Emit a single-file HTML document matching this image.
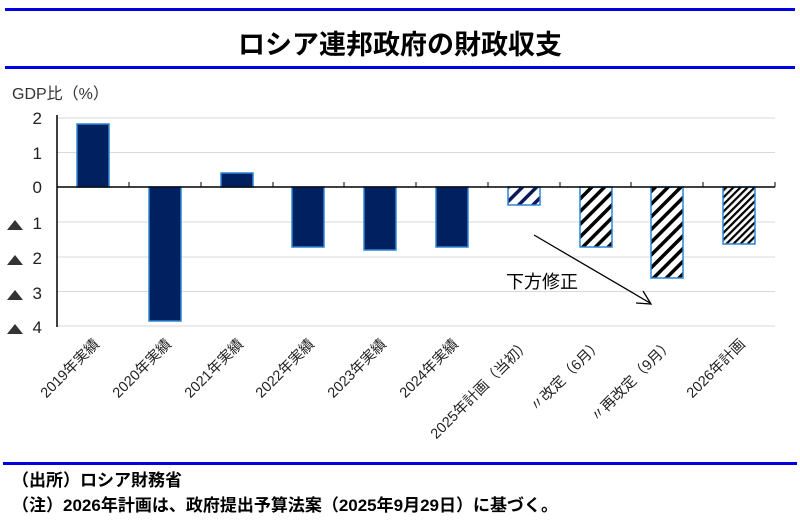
<!DOCTYPE html>
<html><head><meta charset="utf-8"><style>
body{margin:0;background:#fff;}
svg{display:block;font-family:"Liberation Sans","Noto Sans CJK JP",sans-serif;}
</style></head><body>
<svg width="800" height="526" viewBox="0 0 800 526" xmlns="http://www.w3.org/2000/svg">
<defs>
<pattern id="h1" width="10" height="10" patternUnits="userSpaceOnUse" patternTransform="rotate(45)">
<rect width="10" height="10" fill="#fff"/><rect x="0" y="0" width="3.5" height="10" fill="#0a1a5a"/></pattern>
<pattern id="h2" width="9" height="9" patternUnits="userSpaceOnUse" patternTransform="rotate(45)">
<rect width="9" height="9" fill="#fff"/><rect x="0" y="0" width="3.5" height="9" fill="#000"/></pattern>
<pattern id="h3" width="5" height="5" patternUnits="userSpaceOnUse" patternTransform="rotate(45)">
<rect width="5" height="5" fill="#fff"/><rect x="0" y="0" width="2.2" height="5" fill="#000"/></pattern>
</defs>
<rect x="5" y="8" width="790" height="3" fill="#0000e0"/>
<rect x="5" y="66" width="790" height="3" fill="#0000e0"/>
<rect x="3" y="462" width="794" height="3" fill="#0000e0"/>
<text x="400" y="54" font-size="27" font-weight="bold" text-anchor="middle">ロシア連邦政府の財政収支</text>
<text x="12" y="99" font-size="16" fill="#333">GDP比（%）</text>
<g stroke="#d9d9d9" stroke-width="1">
<line x1="57" y1="118" x2="775" y2="118"/><line x1="57" y1="152.5" x2="775" y2="152.5"/>
<line x1="57" y1="222" x2="775" y2="222"/><line x1="57" y1="257" x2="775" y2="257"/>
<line x1="57" y1="291.5" x2="775" y2="291.5"/><line x1="57" y1="326" x2="775" y2="326"/>
</g>
<g font-size="17" fill="#222" text-anchor="end">
<text x="42" y="124">2</text><text x="42" y="159">1</text><text x="42" y="193">0</text>
<text x="42" y="229">1</text><text x="42" y="264">2</text><text x="42" y="299">3</text><text x="42" y="333">4</text>
</g>
<g fill="#333">
<polygon points="7,230 23,230 15,220"/><polygon points="7,265 23,265 15,255"/>
<polygon points="7,300 23,300 15,290"/><polygon points="7,334 23,334 15,324"/>
</g>
<g stroke="#2e86d4" stroke-width="1.5" fill="#002060">
<rect x="77" y="124" width="32" height="63"/>
<rect x="149" y="187" width="32" height="134"/>
<rect x="221" y="173" width="32" height="14"/>
<rect x="292" y="187" width="32" height="60"/>
<rect x="364" y="187" width="32" height="63"/>
<rect x="436" y="187" width="32" height="60"/>
<rect x="508" y="187" width="32" height="18" fill="url(#h1)"/>
<rect x="580" y="187" width="32" height="60" fill="url(#h2)"/>
<rect x="651" y="187" width="32" height="91" fill="url(#h2)"/>
<rect x="723" y="187" width="32" height="57" fill="url(#h3)"/>
</g>
<line x1="57" y1="115" x2="57" y2="327" stroke="#000" stroke-width="1.5"/>
<line x1="57" y1="187" x2="775" y2="187" stroke="#000" stroke-width="1.5"/>
<g stroke="#000" stroke-width="1">
<line x1="129" y1="182" x2="129" y2="187"/><line x1="201" y1="182" x2="201" y2="187"/>
<line x1="273" y1="182" x2="273" y2="187"/><line x1="344" y1="182" x2="344" y2="187"/>
<line x1="416" y1="182" x2="416" y2="187"/><line x1="488" y1="182" x2="488" y2="187"/>
<line x1="560" y1="182" x2="560" y2="187"/><line x1="631" y1="182" x2="631" y2="187"/>
<line x1="703" y1="182" x2="703" y2="187"/><line x1="775" y1="182" x2="775" y2="187"/>
</g>
<line x1="534" y1="235" x2="650" y2="303" stroke="#000" stroke-width="1.3"/>
<polyline points="636,303 651,304 643,291" fill="none" stroke="#000" stroke-width="1.3"/>
<text x="506" y="288" font-size="18">下方修正</text>
<g font-size="14.5" fill="#222" text-anchor="end">
<text transform="translate(100,345) rotate(-45)">2019年実績</text>
<text transform="translate(172,345) rotate(-45)">2020年実績</text>
<text transform="translate(244,345) rotate(-45)">2021年実績</text>
<text transform="translate(315,345) rotate(-45)">2022年実績</text>
<text transform="translate(387,345) rotate(-45)">2023年実績</text>
<text transform="translate(459,345) rotate(-45)">2024年実績</text>
<text transform="translate(531,345) rotate(-45)">2025年計画（当初）</text>
<text transform="translate(603,345) rotate(-45)">〃改定（6月）</text>
<text transform="translate(674,345) rotate(-45)">〃再改定（9月）</text>
<text transform="translate(746,345) rotate(-45)">2026年計画</text>
</g>
<text x="12" y="486" font-size="17" font-weight="bold">（出所）ロシア財務省</text>
<text x="12" y="511" font-size="17" font-weight="bold">（注）2026年計画は、政府提出予算法案（2025年9月29日）に基づく。</text>
</svg>
</body></html>
